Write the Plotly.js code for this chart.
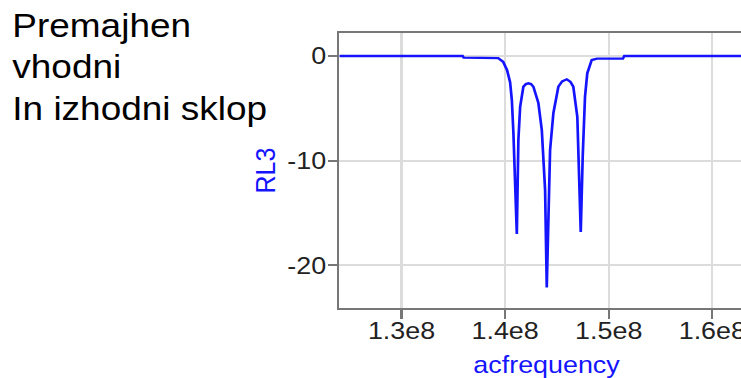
<!DOCTYPE html>
<html><head><meta charset="utf-8">
<script src="https://cdn.plot.ly/plotly-3.0.1.min.js"></script>
<style>
html,body{margin:0;padding:0;overflow:hidden;background:#fff;width:741px;height:378px}
#wrap{position:absolute;left:0;top:0;width:714px;height:378px;transform:scaleX(1.12);transform-origin:0 0}
#chart{position:absolute;left:0;top:0;width:714px;height:378px}
#note{position:absolute;left:11px;top:4.8px;font-family:'Liberation Sans',Arial,sans-serif;font-size:33px;line-height:41.5px;color:#000;white-space:nowrap}
</style>
</head><body>
<div id="wrap"><div id="chart"></div><div id="note">Premajhen<br>vhodni<br>In izhodni sklop</div></div>
<script>
// acfrequency (Hz)
const acfrequency = [124.0e6, 135.9e6, 136.0e6, 139.33e6, 139.81e6, 140.19e6, 140.48e6, 140.65e6, 140.80e6, 140.96e6, 141.13e6,
  141.28e6, 141.45e6, 141.76e6, 142.0e6, 142.25e6, 142.5e6, 142.73e6, 143.21e6, 143.54e6, 143.86e6, 144.02e6, 144.17e6, 144.34e6,
  144.66e6, 145.14e6, 145.5e6, 145.95e6, 146.3e6, 146.58e6, 146.97e6, 147.16e6, 147.30e6, 147.49e6, 147.71e6, 147.93e6, 148.36e6,
  148.87e6, 151.37e6, 151.5e6, 164.0e6];
// RL3 (dB)
const RL3 = [0, 0, -0.15, -0.2, -0.55, -1.35, -2.5, -4.2, -7.35, -11.2, -17.0,
  -8.0, -4.85, -2.93, -2.68, -2.6, -2.68, -2.93, -4.49, -7.06, -12.8, -22.1, -14.4, -8.97,
  -5.44, -2.93, -2.42, -2.22, -2.45, -2.93, -5.8, -11.2, -16.8, -9.6, -3.9, -1.65, -0.38,
  -0.25, -0.25, 0, 0];
const xTickVals = [1.3e8, 1.4e8, 1.5e8, 1.6e8];
const xTickText = ['1.3e8', '1.4e8', '1.5e8', '1.6e8'];
const yTickVals = [-20, -10, 0];
const yTickText = ['-20', '-10', '0'];

const blue = '#1414ff';
const font = "'Liberation Sans', Arial, sans-serif";

Plotly.newPlot('chart', [{
  x: acfrequency, y: RL3, type: 'scatter', mode: 'lines',
  line: {color: blue, width: 2.4}, hoverinfo: 'skip'
}], {
  width: 714, height: 378,
  margin: {l: 302.7, r: 41.1, t: 33, b: 70},
  paper_bgcolor: '#fff', plot_bgcolor: '#fff',
  showlegend: false,
  font: {family: font, size: 24, color: '#222'},
  xaxis: {
    range: [1.24e8, 1.64e8], tickvals: xTickVals, ticktext: xTickText,
    showgrid: true, gridcolor: '#dcdcdc', gridwidth: 2, zeroline: false,
    showline: true, linecolor: '#777', linewidth: 2, mirror: true,
    ticks: 'outside', ticklen: 9, tickwidth: 2, tickcolor: '#777',
    ticklabelstandoff: -9,
    tickfont: {family: font, size: 24, color: '#222'},
    title: {text: 'acfrequency', font: {family: font, size: 24, color: blue}, standoff: 13}
  },
  yaxis: {
    range: [-24.06, 2.2], tickvals: yTickVals, ticktext: yTickText,
    showgrid: true, gridcolor: '#dcdcdc', gridwidth: 2, zeroline: false,
    showline: true, linecolor: '#777', linewidth: 2, mirror: true,
    ticks: 'outside', ticklen: 8, tickwidth: 2, tickcolor: '#777',
    ticklabelstandoff: -3,
    tickfont: {family: font, size: 24, color: '#222'},
    title: {text: 'RL3', font: {family: font, size: 25, color: blue}, standoff: 3}
  },
  annotations: [{
    text: 'acfrequency', xref: 'paper', yref: 'paper', x: 0.5, y: 1.115,
    xanchor: 'center', yanchor: 'bottom', showarrow: false,
    font: {family: font, size: 24, color: blue}
  }]
}, {displayModeBar: false, staticPlot: true});
</script>
</body></html>
